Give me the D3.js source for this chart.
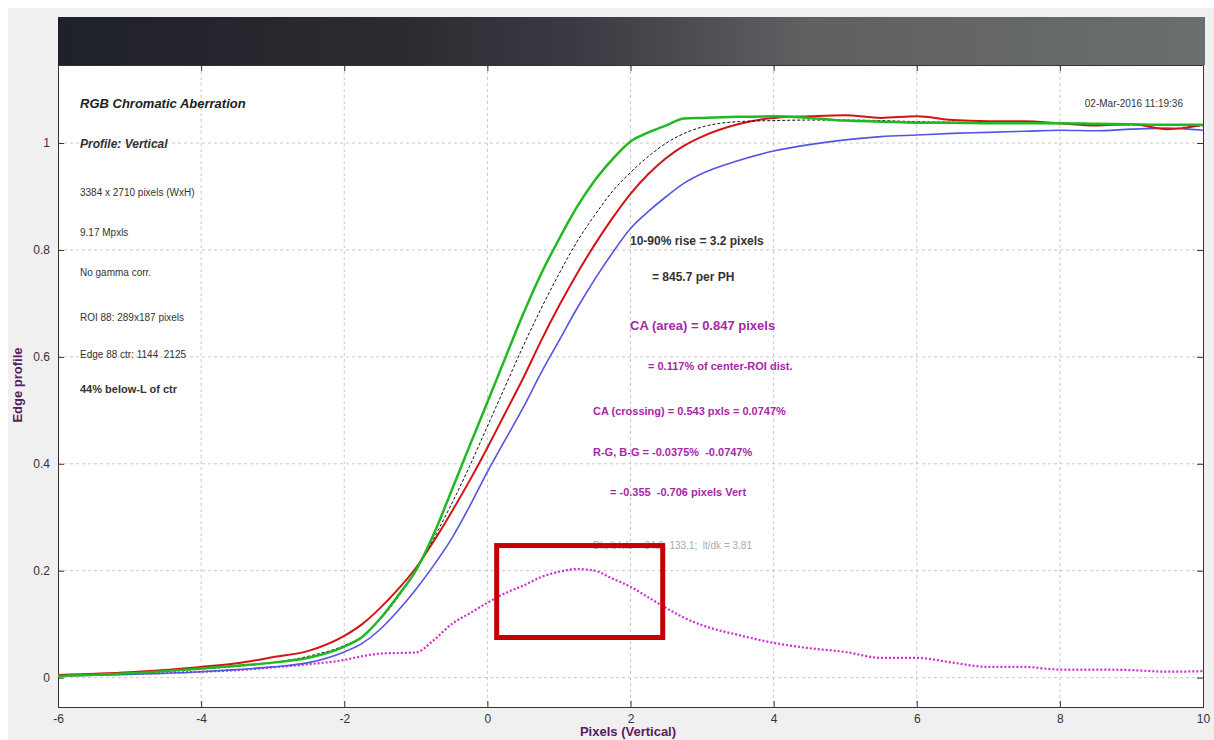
<!DOCTYPE html>
<meta charset="utf-8">
<head>
<script src="https://cdn.jsdelivr.net/npm/d3@7"></script>
<style>
  body { margin: 0; background: #fff; font-family: "Liberation Sans", Arial, sans-serif; }
  .tick text { font-size: 12px; fill: #333; font-family: "Liberation Sans", Arial, sans-serif; }
  .note { font-family: "Liberation Sans", Arial, sans-serif; }
</style>
</head>
<body>
<script>
// abscisa comun (pixels)
var xs = [-6,-5,-4,-3.5,-3,-2.5,-2,-1.75,-1.5,-1.25,-1,-0.75,-0.5,-0.25,0,0.25,0.5,0.75,1,1.25,1.5,1.75,2,2.25,2.5,2.75,3,3.5,4,4.5,5,5.5,6,6.5,7,7.5,8,8.5,9,9.5,10];

var greenVals = [0.003,0.008,0.017,0.022,0.028,0.037,0.058,0.076,0.11,0.153,0.2,0.268,0.35,0.433,0.515,0.598,0.68,0.755,0.82,0.88,0.93,0.97,1.003,1.02,1.033,1.046,1.047,1.049,1.05,1.047,1.042,1.04,1.038,1.038,1.037,1.037,1.037,1.036,1.035,1.034,1.034];
var meanVals  = [0.003,0.008,0.016,0.021,0.028,0.04,0.06,0.077,0.108,0.15,0.2,0.26,0.325,0.395,0.47,0.545,0.62,0.69,0.755,0.815,0.865,0.91,0.945,0.975,1.0,1.018,1.03,1.04,1.042,1.043,1.043,1.042,1.04,1.039,1.038,1.037,1.036,1.035,1.034,1.033,1.032];
var redVals   = [0.005,0.01,0.02,0.027,0.038,0.05,0.078,0.1,0.13,0.165,0.205,0.255,0.31,0.368,0.43,0.495,0.56,0.63,0.695,0.755,0.81,0.86,0.905,0.942,0.972,0.995,1.012,1.035,1.047,1.05,1.052,1.047,1.05,1.043,1.041,1.041,1.037,1.033,1.035,1.026,1.034];
var blueVals  = [0.003,0.006,0.011,0.015,0.02,0.028,0.048,0.064,0.09,0.125,0.165,0.21,0.26,0.32,0.385,0.445,0.505,0.57,0.63,0.69,0.745,0.795,0.84,0.872,0.9,0.925,0.943,0.967,0.985,0.997,1.006,1.012,1.015,1.018,1.02,1.022,1.024,1.023,1.026,1.028,1.024];
var lsfVals   = [0.004,0.007,0.011,0.014,0.019,0.025,0.033,0.04,0.045,0.046,0.047,0.07,0.1,0.12,0.14,0.158,0.172,0.188,0.198,0.203,0.2,0.185,0.17,0.15,0.13,0.112,0.098,0.08,0.065,0.055,0.048,0.037,0.037,0.028,0.02,0.02,0.015,0.015,0.014,0.011,0.012];

var xTicks = [-6,-4,-2,0,2,4,6,8,10];
var yTicks = [0,0.2,0.4,0.6,0.8,1];
var yTickLabels = ["0","0.2","0.4","0.6","0.8","1"];

// recuadro rojo de resaltado (en unidades de datos)
var highlight = {x0: 0.13, x1: 2.45, y0: 0.075, y1: 0.247};

var W = 1214, H = 740;
var pLeft = 58, pRight = 1203, pTop = 65, pBottom = 707;

var svg = d3.select("body").append("svg")
  .attr("width", W).attr("height", H);

// fondo gris de la ventana
svg.append("rect").attr("x", 8).attr("y", 8).attr("width", W - 8).attr("height", H - 8).attr("fill", "#f0f0f0");

var xScale = d3.scaleLinear().domain([-6, 10]).range([pLeft, pRight]);
var yScale = d3.scaleLinear().domain([-0.055, 1.146]).range([pBottom, pTop]);

// area blanca
svg.append("rect").attr("x", pLeft).attr("y", pTop).attr("width", pRight - pLeft).attr("height", pBottom - pTop).attr("fill", "#fff");

// barra oscura con degradado
var grad = svg.append("defs").append("linearGradient").attr("id", "bar").attr("x1", "0%").attr("x2", "100%");
[[0,"#1f2128"],[0.3,"#2b2c32"],[0.45,"#3a3a42"],[0.55,"#4c4d52"],[0.65,"#5e6062"],[1,"#6b6e6e"]].forEach(function(s){
  grad.append("stop").attr("offset", s[0]).attr("stop-color", s[1]);
});
svg.append("rect").attr("x", pLeft).attr("y", 17).attr("width", pRight - pLeft + 2).attr("height", pTop - 17).attr("fill", "url(#bar)");

// grilla
var grid = svg.append("g").attr("stroke", "#c8c8c8").attr("stroke-dasharray", "3,3").attr("stroke-width", 1);
grid.selectAll(".gx").data(xTicks.slice(1, -1)).enter().append("line")
  .attr("x1", function(d){return xScale(d);}).attr("x2", function(d){return xScale(d);})
  .attr("y1", pTop).attr("y2", pBottom);
grid.selectAll(".gy").data(yTicks).enter().append("line")
  .attr("x1", pLeft).attr("x2", pRight)
  .attr("y1", function(d){return yScale(d);}).attr("y2", function(d){return yScale(d);});

// ejes
var xAxis = d3.axisBottom(xScale).tickValues(xTicks).tickSize(-6).tickPadding(7).tickFormat(function(d){return String(d);});
var yAxis = d3.axisLeft(yScale).tickValues(yTicks).tickSize(-6).tickPadding(8).tickFormat(function(d, i){return yTickLabels[i];});

svg.append("g").attr("transform", "translate(0," + pBottom + ")").call(xAxis);
svg.append("g").attr("transform", "translate(" + pLeft + ",0)").call(yAxis);
svg.append("g").attr("transform", "translate(0," + pTop + ")")
  .call(d3.axisTop(xScale).tickValues(xTicks).tickSize(-6).tickFormat(""));
svg.append("g").attr("transform", "translate(" + pRight + ",0)")
  .call(d3.axisRight(yScale).tickValues(yTicks).tickSize(-6).tickFormat(""));
svg.selectAll(".domain").attr("stroke", "#333");
svg.selectAll(".tick line").attr("stroke", "#333");

// curvas
function serie(vals) { return xs.map(function(x, i){ return [x, vals[i]]; }); }
var line = d3.line().x(function(d){return xScale(d[0]);}).y(function(d){return yScale(d[1]);}).curve(d3.curveMonotoneX);

var curves = [
  {vals: lsfVals, color: "#d22ad2", width: 2.2, dash: "2,2"},
  {vals: blueVals, color: "#5454e4", width: 1.6, dash: null},
  {vals: redVals, color: "#d41414", width: 2, dash: null},
  {vals: meanVals, color: "#111", width: 1, dash: "3,2"},
  {vals: greenVals, color: "#22b822", width: 2.5, dash: null}
];
svg.append("g").selectAll("path").data(curves).enter().append("path")
  .attr("d", function(d){return line(serie(d.vals));})
  .attr("fill", "none")
  .attr("stroke", function(d){return d.color;})
  .attr("stroke-width", function(d){return d.width;})
  .attr("stroke-dasharray", function(d){return d.dash;});

// textos
var notes = [
  {t: "RGB Chromatic Aberration", x: 80, y: 108, s: 13, w: "bold", i: true, c: "#222"},
  {t: "Profile: Vertical", x: 80, y: 148, s: 12, w: "bold", i: true, c: "#333"},
  {t: "3384 x 2710 pixels (WxH)", x: 80, y: 196, s: 10, c: "#333"},
  {t: "9.17 Mpxls", x: 80, y: 236, s: 10, c: "#333"},
  {t: "No gamma corr.", x: 80, y: 276, s: 10, c: "#333"},
  {t: "ROI 88: 289x187 pixels", x: 80, y: 321, s: 10, c: "#333"},
  {t: "Edge 88 ctr: 1144  2125", x: 80, y: 358, s: 10, c: "#333"},
  {t: "44% below-L of ctr", x: 80, y: 393, s: 11, w: "bold", c: "#333"},
  {t: "02-Mar-2016 11:19:36", x: 1183, y: 107, s: 10, c: "#333", a: "end"},
  {t: "10-90% rise = 3.2 pixels", x: 630, y: 245, s: 12, w: "bold", c: "#333"},
  {t: "= 845.7 per PH", x: 652, y: 281, s: 12, w: "bold", c: "#333"},
  {t: "CA (area) = 0.847 pixels", x: 630, y: 330, s: 13, w: "bold", c: "#a826a8"},
  {t: "= 0.117% of center-ROI dist.", x: 648, y: 370, s: 11, w: "bold", c: "#a826a8"},
  {t: "CA (crossing) = 0.543 pxls = 0.0747%", x: 593, y: 415, s: 11, w: "bold", c: "#a826a8"},
  {t: "R-G, B-G = -0.0375%  -0.0747%", x: 593, y: 456, s: 11, w: "bold", c: "#a826a8"},
  {t: "= -0.355  -0.706 pixels Vert", x: 610, y: 496, s: 11, w: "bold", c: "#a826a8"},
  {t: "Dk, lt lvls = 34.9, 133.1;  lt/dk = 3.81", x: 593, y: 549, s: 10, c: "#aaa"}
];
svg.append("g").selectAll("text").data(notes).enter().append("text")
  .attr("class", "note")
  .attr("x", function(d){return d.x;}).attr("y", function(d){return d.y;})
  .attr("font-size", function(d){return d.s;})
  .attr("font-weight", function(d){return d.w || "normal";})
  .attr("font-style", function(d){return d.i ? "italic" : "normal";})
  .attr("text-anchor", function(d){return d.a || "start";})
  .attr("fill", function(d){return d.c;})
  .style("white-space", "pre")
  .text(function(d){return d.t;});

// recuadro rojo
svg.append("rect")
  .attr("x", xScale(highlight.x0)).attr("y", yScale(highlight.y1))
  .attr("width", xScale(highlight.x1) - xScale(highlight.x0))
  .attr("height", yScale(highlight.y0) - yScale(highlight.y1))
  .attr("fill", "none").attr("stroke", "#c40000").attr("stroke-width", 5);

// titulos de ejes
svg.append("text").attr("x", 628).attr("y", 736).attr("text-anchor", "middle")
  .attr("font-size", 13).attr("font-weight", "bold").attr("fill", "#5a1a60").text("Pixels (Vertical)");
svg.append("text").attr("transform", "translate(22,385) rotate(-90)").attr("text-anchor", "middle")
  .attr("font-size", 13).attr("font-weight", "bold").attr("fill", "#5a1a60").text("Edge profile");
</script>
</body>
